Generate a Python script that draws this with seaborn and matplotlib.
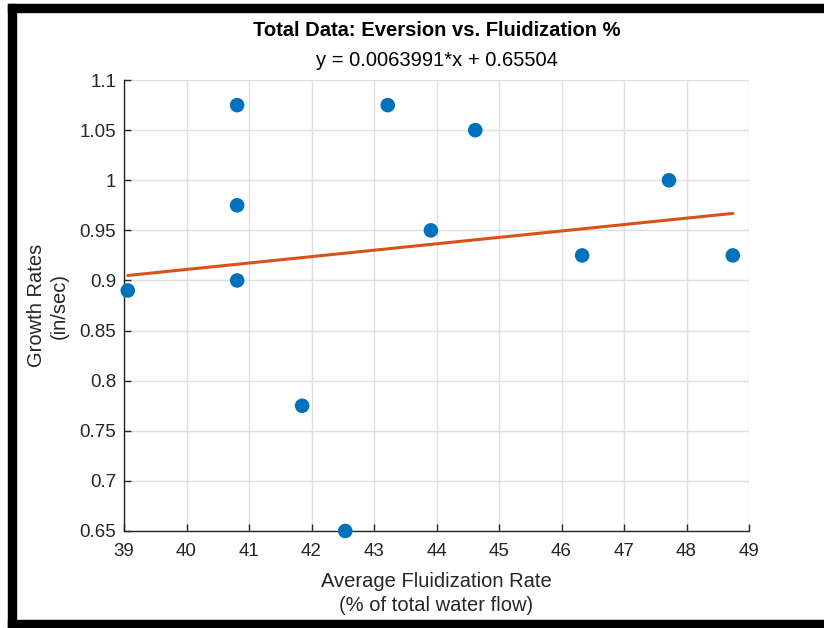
import numpy as np
import pandas as pd
import seaborn as sns
import matplotlib
matplotlib.use("Agg")
import matplotlib.pyplot as plt
from matplotlib.patches import Rectangle

# data
fluidization = [39.06, 40.81, 40.81, 40.81, 41.85, 42.54, 43.22, 43.91, 44.62, 46.33, 47.72, 48.74]
growth_rate = [0.890, 1.075, 0.975, 0.900, 0.775, 0.650, 1.075, 0.950, 1.050, 0.925, 1.000, 0.925]

# linear fit shown in the subtitle
slope = 0.0063991
intercept = 0.65504

x_ticks = [39, 40, 41, 42, 43, 44, 45, 46, 47, 48, 49]
y_ticks = [0.65, 0.7, 0.75, 0.8, 0.85, 0.9, 0.95, 1.0, 1.05, 1.1]
y_tick_labels = ["0.65", "0.7", "0.75", "0.8", "0.85", "0.9", "0.95", "1", "1.05", "1.1"]

sns.set_theme(style="white")
plt.rcParams["font.family"] = ["Liberation Sans", "DejaVu Sans"]

pts = pd.DataFrame({"x": fluidization, "y": growth_rate})
fit_x = np.array([min(fluidization), max(fluidization)])
fit = pd.DataFrame({"x": fit_x, "y": slope * fit_x + intercept})

fig = plt.figure(figsize=(8.24, 6.28), dpi=100)
ax = fig.add_axes([0.1505, 0.1545, 0.7585, 0.718])

txt = "#262626"
sns.scatterplot(data=pts, x="x", y="y", ax=ax, s=110, color="#0072BD",
                edgecolor="none", zorder=3, clip_on=False)
sns.lineplot(data=fit, x="x", y="y", ax=ax, color="#D95319", linewidth=2.2, zorder=2)

ax.set_xlim(39, 49)
ax.set_ylim(0.65, 1.1)
ax.set_xticks(x_ticks)
ax.set_yticks(y_ticks)
ax.set_yticklabels(y_tick_labels)
ax.grid(True, color="#dfdfdf", linewidth=1)
ax.set_axisbelow(True)

for side in ["top", "right"]:
    ax.spines[side].set_visible(False)
for side in ["left", "bottom"]:
    ax.spines[side].set_color(txt)
    ax.spines[side].set_linewidth(1.0)
ax.tick_params(direction="in", length=5, width=1, colors=txt, labelsize=13.5,
               left=True, bottom=True)
ax.tick_params(axis="x", pad=8.5)
ax.tick_params(axis="y", pad=5.5)

ax.set_xlabel("Average Fluidization Rate\n(% of total water flow)", fontsize=14.5,
              color=txt, labelpad=9, linespacing=1.3)
ax.set_ylabel("Growth Rates\n(in/sec)", fontsize=14.5, color=txt, labelpad=8,
              linespacing=1.25)

ax.text(0.5, 1.109, "Total Data: Eversion vs. Fluidization %", transform=ax.transAxes,
        ha="center", va="center", fontsize=14.5, fontweight="bold", color="black")
ax.text(0.5, 1.044, "y = 0.0063991*x + 0.65504", transform=ax.transAxes,
        ha="center", va="center", fontsize=14.5, color="black")

# black frame around the screenshot
W, H = 824, 628
frame = dict(transform=fig.transFigure, color="black", zorder=10)
fig.patches.append(Rectangle((8 / W, 0), 8 / W, 1 - 4 / H, **frame))
fig.patches.append(Rectangle((8 / W, 1 - 12 / H), 1, 8 / H, **frame))
fig.patches.append(Rectangle((8 / W, 0), 1, 8 / H, **frame))

fig.savefig("out.png", dpi=100)
